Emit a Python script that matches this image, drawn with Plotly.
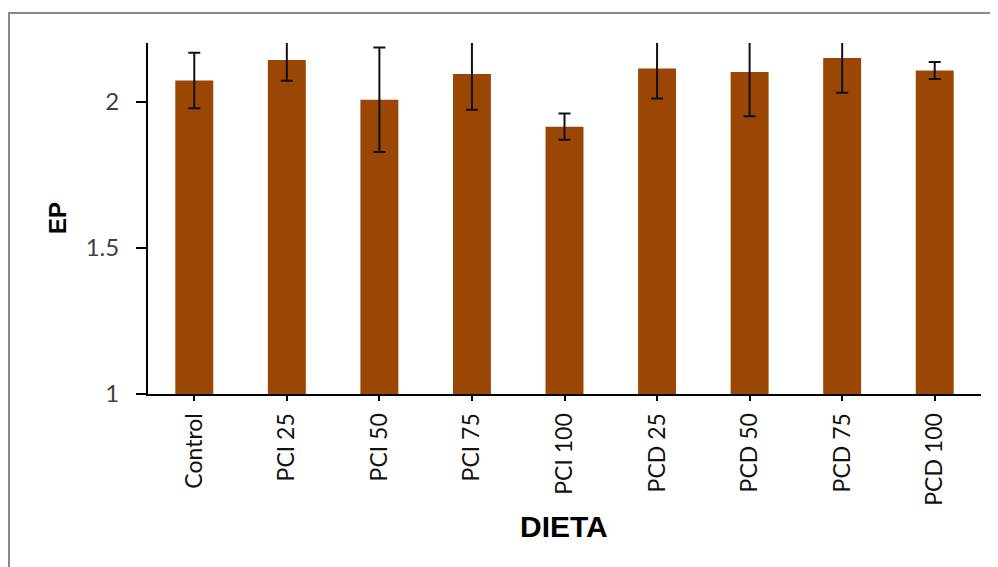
import plotly.graph_objects as go

categories = ["Control", "PCI 25", "PCI 50", "PCI 75", "PCI 100", "PCD 25", "PCD 50", "PCD 75", "PCD 100"]
values = [2.072, 2.142, 2.006, 2.094, 1.914, 2.113, 2.101, 2.149, 2.106]
errors = [0.095, 0.071, 0.179, 0.122, 0.045, 0.103, 0.151, 0.119, 0.029]
y_ticks = [1, 1.5, 2]
y_tick_labels = ["1", "1.5", "2"]

OFF = 8  # page body margin
W, H = 998 - OFF, 567 - OFF
ml, mr, mt, mb = 148 - OFF, 17, 43 - OFF, 173
pw, ph = W - ml - mr, H - mt - mb

def px_x(x):
    return (x - OFF - ml) / pw

def px_y(y):
    return (H - mb - (y - OFF)) / ph

fig = go.Figure(go.Bar(
    x=categories, y=values,
    marker=dict(color="#9A4706", line=dict(width=0)),
    error_y=dict(type="data", array=errors, visible=True, color="#111111", thickness=2, width=6),
    width=0.41,
))

fig.update_layout(
    width=W, height=H,
    margin=dict(l=ml, r=mr, t=mt, b=mb),
    paper_bgcolor="white", plot_bgcolor="white",
    showlegend=False,
    font=dict(family="Lato", color="#404040"),
    xaxis=dict(
        showline=True, linecolor="black", linewidth=2,
        ticks="outside", ticklen=5, tickwidth=2, tickcolor="black",
        tickangle=-90, tickfont=dict(size=23, color="#111111", family="Lato"),
        ticklabelstandoff=3,
        showgrid=False, zeroline=False,
    ),
    yaxis=dict(
        range=[1, 2.2],
        tickvals=y_ticks, ticktext=y_tick_labels,
        showline=True, linecolor="black", linewidth=2,
        ticks="outside", ticklen=10, tickwidth=2, tickcolor="black",
        tickfont=dict(size=24, color="#404040", family="Lato"),
        ticklabelstandoff=12,
        showgrid=False, zeroline=False,
    ),
    annotations=[
        dict(text="<b>EP</b>", xref="paper", yref="paper",
             x=px_x(57), y=px_y(218), showarrow=False,
             textangle=-90, font=dict(size=24, color="black", family="Liberation Sans"),
             xanchor="center", yanchor="middle"),
        dict(text="<b>DIETA</b>", xref="paper", yref="paper",
             x=px_x(564), y=px_y(526), showarrow=False,
             font=dict(size=30, color="black", family="Liberation Sans"),
             xanchor="center", yanchor="middle"),
    ],
    shapes=[
        dict(type="rect", xref="paper", yref="paper",
             x0=px_x(OFF + 1), x1=px_x(1010),
             y0=px_y(580), y1=px_y(13),
             line=dict(color="#8a8a8a", width=2), layer="below"),
    ],
)

fig.write_html("out.html")
